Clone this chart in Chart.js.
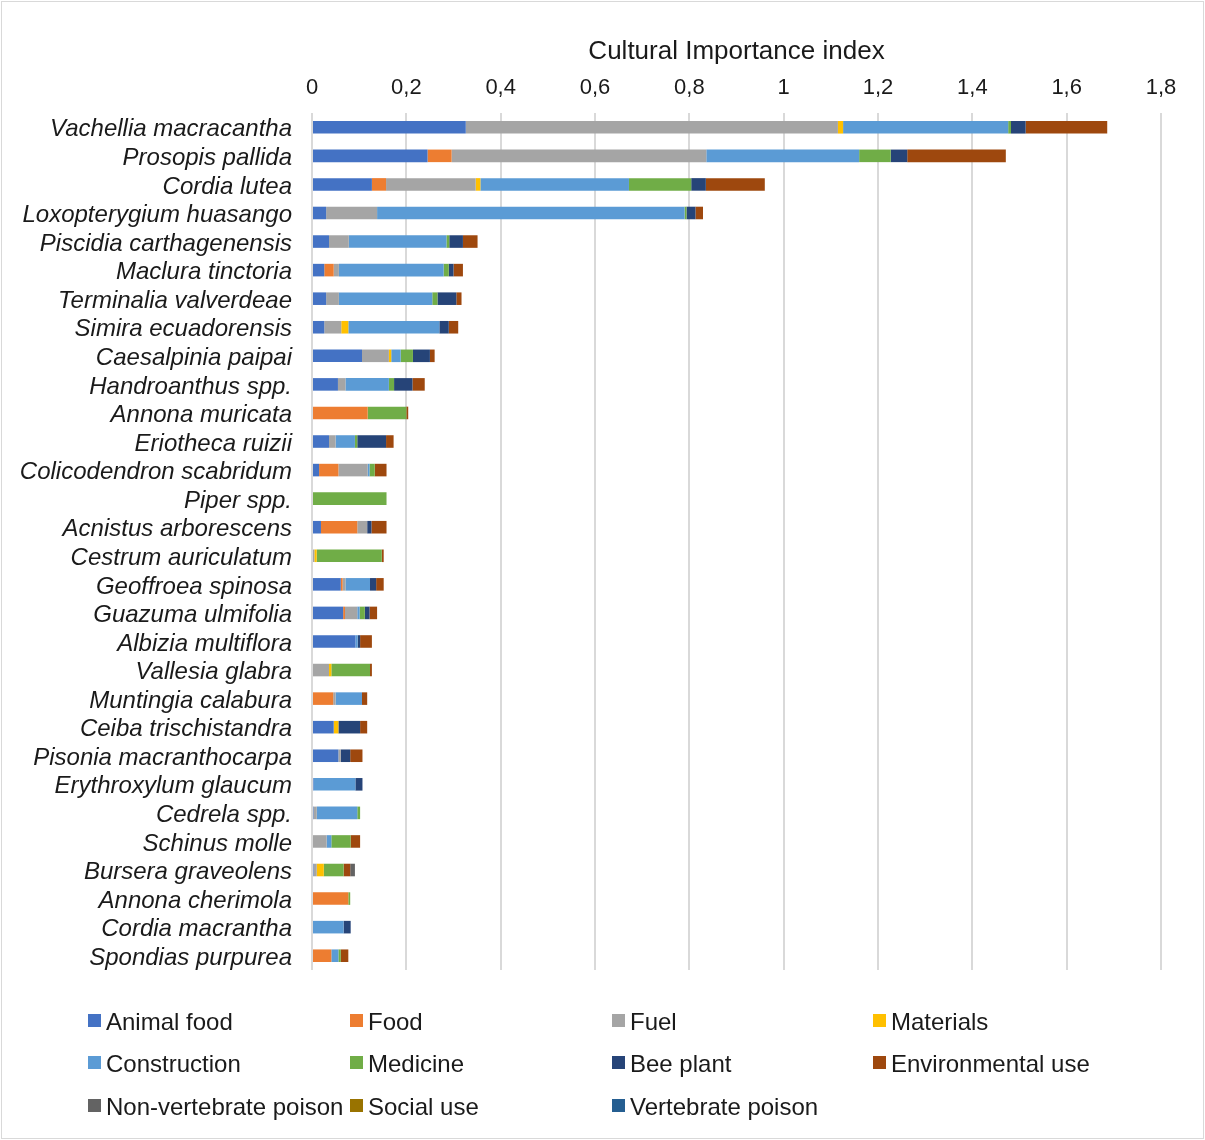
<!DOCTYPE html>
<html>
<head>
<meta charset="utf-8">
<title>Cultural Importance index</title>
<script src="https://cdn.jsdelivr.net/npm/chart.js@4/dist/chart.umd.min.js"></script>
<style>
  html, body { margin: 0; padding: 0; background: #ffffff; }
  #wrap { position: relative; width: 1205px; height: 1140px; }
</style>
</head>
<body>
<div id="wrap"><canvas id="chart" width="1205" height="1140"></canvas></div>
<script>
// Species, top to bottom
const species = [
  'Vachellia macracantha', 'Prosopis pallida', 'Cordia lutea', 'Loxopterygium huasango',
  'Piscidia carthagenensis', 'Maclura tinctoria', 'Terminalia valverdeae', 'Simira ecuadorensis',
  'Caesalpinia paipai', 'Handroanthus spp.', 'Annona muricata', 'Eriotheca ruizii',
  'Colicodendron scabridum', 'Piper spp.', 'Acnistus arborescens', 'Cestrum auriculatum',
  'Geoffroea spinosa', 'Guazuma ulmifolia', 'Albizia multiflora', 'Vallesia glabra',
  'Muntingia calabura', 'Ceiba trischistandra', 'Pisonia macranthocarpa', 'Erythroxylum glaucum',
  'Cedrela spp.', 'Schinus molle', 'Bursera graveolens', 'Annona cherimola',
  'Cordia macrantha', 'Spondias purpurea'
];

// Use-category contributions to the index, one value per species
const animalFood   = [0.326, 0.245, 0.127, 0.030, 0.036, 0.026, 0.030, 0.026, 0.106, 0.055, 0, 0.036, 0.015, 0, 0.019, 0, 0.061, 0.066, 0.092, 0, 0, 0.046, 0.056, 0.003, 0.003, 0, 0.003, 0, 0, 0];
const food         = [0, 0.051, 0.030, 0, 0, 0.020, 0, 0, 0, 0, 0.118, 0, 0.041, 0, 0.077, 0, 0.004, 0.004, 0, 0, 0.045, 0, 0, 0, 0, 0, 0, 0.077, 0, 0.041];
const fuel         = [0.789, 0.540, 0.190, 0.108, 0.042, 0.011, 0.027, 0.036, 0.057, 0.016, 0, 0.014, 0.062, 0, 0.021, 0.005, 0.006, 0.026, 0, 0.036, 0.005, 0, 0.005, 0, 0.007, 0.031, 0.007, 0, 0, 0];
const materials    = [0.011, 0, 0.010, 0, 0, 0, 0, 0.015, 0.005, 0, 0, 0, 0, 0, 0, 0.005, 0, 0, 0, 0.005, 0, 0.010, 0, 0, 0, 0, 0.015, 0, 0, 0];
const construction = [0.350, 0.324, 0.315, 0.652, 0.207, 0.222, 0.198, 0.193, 0.020, 0.092, 0, 0.041, 0.004, 0, 0, 0, 0.052, 0.005, 0.005, 0, 0.056, 0, 0, 0.089, 0.086, 0.010, 0, 0, 0.067, 0.015];
const medicine     = [0.006, 0.067, 0.132, 0.004, 0.006, 0.011, 0.011, 0, 0.026, 0.011, 0.082, 0.005, 0.011, 0.158, 0, 0.138, 0, 0.011, 0, 0.082, 0, 0, 0, 0, 0.006, 0.041, 0.042, 0.004, 0, 0.005];
const beePlant     = [0.031, 0.035, 0.031, 0.019, 0.029, 0.010, 0.040, 0.020, 0.036, 0.039, 0, 0.061, 0, 0, 0.009, 0, 0.013, 0.010, 0.005, 0, 0, 0.046, 0.020, 0.015, 0, 0, 0, 0, 0.015, 0];
const environment  = [0.173, 0.209, 0.125, 0.016, 0.031, 0.020, 0.011, 0.020, 0.010, 0.026, 0.004, 0.016, 0.025, 0, 0.032, 0.004, 0.016, 0.016, 0.025, 0.004, 0.011, 0.015, 0.026, 0, 0, 0.020, 0.014, 0, 0, 0.016];
const nonVertPoison= [0, 0, 0, 0, 0, 0, 0, 0, 0, 0, 0, 0, 0, 0, 0, 0, 0, 0, 0, 0, 0, 0, 0, 0, 0, 0, 0.010, 0, 0, 0];
const socialUse    = [0, 0, 0, 0, 0, 0, 0, 0, 0, 0, 0, 0, 0, 0, 0, 0, 0, 0, 0, 0, 0, 0, 0, 0, 0, 0, 0, 0, 0, 0];
const vertPoison   = [0, 0, 0, 0, 0, 0, 0, 0, 0, 0, 0, 0, 0, 0, 0, 0, 0, 0, 0, 0, 0, 0, 0, 0, 0, 0, 0, 0, 0, 0];

// Axis ticks (comma decimal separator)
const xTicks = [0, 0.2, 0.4, 0.6, 0.8, 1, 1.2, 1.4, 1.6, 1.8];

const series = [
  { label: 'Animal food',           data: animalFood,    color: '#4472C4' },
  { label: 'Food',                  data: food,          color: '#ED7D31' },
  { label: 'Fuel',                  data: fuel,          color: '#A5A5A5' },
  { label: 'Materials',             data: materials,     color: '#FFC000' },
  { label: 'Construction',          data: construction,  color: '#5B9BD5' },
  { label: 'Medicine',              data: medicine,      color: '#70AD47' },
  { label: 'Bee plant',             data: beePlant,      color: '#264478' },
  { label: 'Environmental use',     data: environment,   color: '#9E480E' },
  { label: 'Non-vertebrate poison', data: nonVertPoison, color: '#636363' },
  { label: 'Social use',            data: socialUse,     color: '#997300' },
  { label: 'Vertebrate poison',     data: vertPoison,    color: '#255E91' }
];

const FONT = "'Liberation Sans', Arial, sans-serif";
const TEXT = '#1a1a1a';

// Legend grid in the bottom band, plus the light frame around the figure
const legendAndFrame = {
  id: 'legendAndFrame',
  afterDraw(chart) {
    const ctx = chart.ctx;
    ctx.save();
    ctx.strokeStyle = '#D9D9D9';
    ctx.lineWidth = 1;
    ctx.strokeRect(1.5, 1.5, chart.width - 3, chart.height - 3);

    const colX = [88, 350, 612, 873];
    const rowY = [1021, 1063, 1106];
    ctx.font = '24px ' + FONT;
    ctx.textBaseline = 'middle';
    ctx.textAlign = 'left';
    series.forEach((s, i) => {
      const x = colX[i % 4];
      const y = rowY[Math.floor(i / 4)];
      ctx.fillStyle = s.color;
      ctx.fillRect(x, y - 7, 13, 13);
      ctx.fillStyle = TEXT;
      ctx.fillText(s.label, x + 18, y + 2);
    });
    ctx.restore();
  }
};

new Chart(document.getElementById('chart'), {
  type: 'bar',
  data: {
    labels: species,
    datasets: series.map(s => ({
      label: s.label,
      data: s.data,
      backgroundColor: s.color,
      borderWidth: 0,
      categoryPercentage: 1,
      barPercentage: 0.44
    }))
  },
  options: {
    indexAxis: 'y',
    responsive: false,
    animation: false,
    layout: { padding: { top: 30, right: 44, bottom: 170, left: 0 } },
    plugins: {
      legend: { display: false },
      tooltip: { enabled: false }
    },
    scales: {
      x: {
        position: 'top',
        stacked: true,
        min: 0,
        max: 1.8,
        afterBuildTicks(scale) {
          scale.ticks = xTicks.map(v => ({ value: v }));
        },
        afterFit(scale) { scale.height = 83; },
        grid: { color: '#D9D9D9', lineWidth: 2, drawTicks: false },
        border: { display: false },
        ticks: {
          padding: 12,
          color: TEXT,
          font: { family: FONT, size: 22 },
          callback: v => String(Math.round(v * 10) / 10).replace('.', ',')
        },
        title: {
          display: true,
          text: 'Cultural Importance index',
          color: TEXT,
          font: { family: FONT, size: 26 },
          padding: { top: 6, bottom: 0 }
        }
      },
      y: {
        stacked: true,
        afterFit(scale) { scale.width = 312; },
        grid: { display: false, drawTicks: false },
        border: { display: false },
        ticks: {
          autoSkip: false,
          padding: 20,
          labelOffset: 2.5,
          color: TEXT,
          font: { family: FONT, size: 24, style: 'italic' }
        }
      }
    }
  },
  plugins: [legendAndFrame]
});
</script>
</body>
</html>
